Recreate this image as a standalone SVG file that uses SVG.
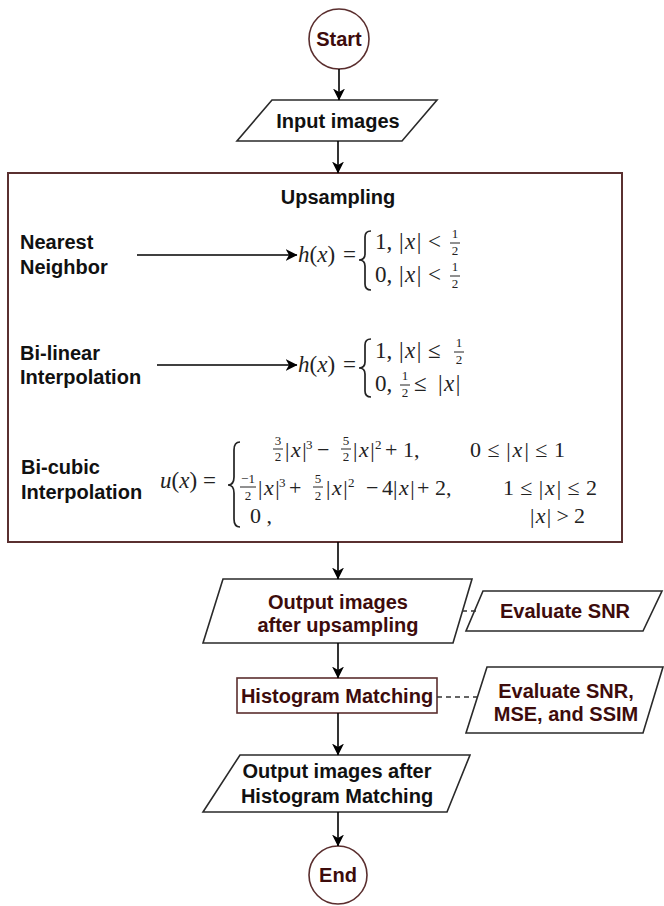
<svg xmlns="http://www.w3.org/2000/svg" width="664" height="906" viewBox="0 0 664 906">
<defs>
<marker id="ah" viewBox="0 0 12 12" refX="11.5" refY="6" markerWidth="12" markerHeight="12" markerUnits="userSpaceOnUse" orient="auto"><path d="M0,0 L12,6 L0,12 L3.5,6 z" fill="#000"/></marker>
</defs>
<style>
.lbl{font-family:"Liberation Sans",Arial,sans-serif;font-weight:bold;font-size:20px;text-anchor:middle}
.sl{font-family:"Liberation Sans",Arial,sans-serif;font-weight:bold;font-size:20px;fill:#111}
.mar{fill:#3d0c0c}
.blk{fill:#111}
.node{fill:#fff;stroke:#2a2a2a;stroke-width:1.6}
.mnode{fill:#fff;stroke:#5a2e2e;stroke-width:1.6}
.conn{stroke:#000;stroke-width:1.6;fill:none}
.dash{stroke:#333;stroke-width:1.3;stroke-dasharray:5 4;fill:none}
.m{font-family:"Liberation Serif","Times New Roman",serif;font-size:22px;fill:#222}
.h{font-size:23px}
.i{font-style:italic}
.f{font-family:"Liberation Serif","Times New Roman",serif;font-size:13px;fill:#222;text-anchor:middle}
.s{font-family:"Liberation Serif","Times New Roman",serif;font-size:13px;fill:#222}
.bar{stroke:#222;stroke-width:1}
.brace{fill:none;stroke:#222;stroke-width:1.7}
</style>

<g id="start">
<circle class="mnode" cx="339" cy="39" r="30"/>
<text class="lbl mar" x="339" y="46">Start</text>
</g>

<g id="input">
<polygon class="node" points="272,100 437,100 402,141 237,141"/>
<text class="lbl blk" x="338" y="128">Input images</text>
</g>

<g id="upsampling">
<rect x="8" y="173" width="614" height="369" fill="#fff" stroke="#5a3030" stroke-width="2"/>
<text class="lbl blk" x="338" y="204">Upsampling</text>

<text class="sl" x="20" y="249">Nearest</text>
<text class="sl" x="20" y="274">Neighbor</text>
<text class="m h" x="298" y="262"><tspan class="i">h</tspan>(<tspan class="i">x</tspan>)<tspan x="343">=</tspan></text>
<path class="brace" d="M371,231 Q365,231 365,237 L365,254 Q365,260 359,260 Q365,260 365,266 L365,284 Q365,290 371,290"/>
<text class="m h" x="375" y="249">1, <tspan x="399">|</tspan><tspan class="i" dx="1.5">x</tspan><tspan dx="1.5">|</tspan><tspan x="428">&lt;</tspan></text>
<text class="f" x="455" y="238">1</text><line class="bar" x1="450" y1="243" x2="460" y2="243"/><text class="f" x="455" y="255">2</text>
<text class="m h" x="375" y="282">0, <tspan x="399">|</tspan><tspan class="i" dx="1.5">x</tspan><tspan dx="1.5">|</tspan><tspan x="428">&lt;</tspan></text>
<text class="f" x="455" y="271">1</text><line class="bar" x1="450" y1="276" x2="460" y2="276"/><text class="f" x="455" y="288">2</text>

<text class="sl" x="20" y="360">Bi-linear</text>
<text class="sl" x="20" y="384">Interpolation</text>
<text class="m h" x="298" y="372"><tspan class="i">h</tspan>(<tspan class="i">x</tspan>)<tspan x="343">=</tspan></text>
<path class="brace" d="M371,339 Q365,339 365,345 L365,362 Q365,368 359,368 Q365,368 365,374 L365,391 Q365,397 371,397"/>
<text class="m h" x="375" y="358">1, <tspan x="399">|</tspan><tspan class="i" dx="1.5">x</tspan><tspan dx="1.5">|</tspan><tspan x="428">≤</tspan></text>
<text class="f" x="459" y="347">1</text><line class="bar" x1="454" y1="352" x2="464" y2="352"/><text class="f" x="459" y="364">2</text>
<text class="m h" x="375" y="391">0,</text>
<text class="f" x="405" y="380">1</text><line class="bar" x1="400" y1="385" x2="410" y2="385"/><text class="f" x="405" y="397">2</text>
<text class="m h" x="414" y="391">≤ <tspan x="438">|</tspan><tspan class="i" dx="1.5">x</tspan><tspan dx="1.5">|</tspan></text>

<text class="sl" x="21" y="474">Bi-cubic</text>
<text class="sl" x="21" y="499">Interpolation</text>
<text class="m h" x="160" y="488"><tspan class="i">u</tspan>(<tspan class="i">x</tspan>)<tspan x="203">=</tspan></text>
<path class="brace" d="M240,442 Q234,442 234,450 L234,477 Q234,485 228,485 Q234,485 234,493 L234,519 Q234,527 240,527"/>

<text class="f" x="278" y="445">3</text><line class="bar" x1="273" y1="449" x2="283" y2="449"/><text class="f" x="278" y="461">2</text>
<text class="m" x="285" y="457">|<tspan class="i" dx="1.5">x</tspan><tspan dx="1.5">|</tspan></text>
<text class="s" x="306" y="449">3</text>
<text class="m" x="317" y="457">−</text>
<text class="f" x="346" y="445">5</text><line class="bar" x1="341" y1="449" x2="351" y2="449"/><text class="f" x="346" y="461">2</text>
<text class="m" x="353" y="457">|<tspan class="i" dx="1.5">x</tspan><tspan dx="1.5">|</tspan></text>
<text class="s" x="375" y="449">2</text>
<text class="m" x="385" y="457">+ 1,</text>
<text class="m" x="470" y="457" textLength="95" lengthAdjust="spacing">0 ≤ |<tspan class="i" dx="1.5">x</tspan><tspan dx="1.5">| ≤ 1</tspan></text>

<text class="f" x="248" y="483">−1</text><line class="bar" x1="240" y1="487" x2="256" y2="487"/><text class="f" x="248" y="500">2</text>
<text class="m" x="258" y="495">|<tspan class="i" dx="1.5">x</tspan><tspan dx="1.5">|</tspan></text>
<text class="s" x="279" y="487">3</text>
<text class="m" x="289" y="495">+</text>
<text class="f" x="318" y="483">5</text><line class="bar" x1="313" y1="487" x2="323" y2="487"/><text class="f" x="318" y="500">2</text>
<text class="m" x="326" y="495">|<tspan class="i" dx="1.5">x</tspan><tspan dx="1.5">|</tspan></text>
<text class="s" x="348" y="487">2</text>
<text class="m" x="366" y="495">−</text>
<text class="m" x="382" y="495">4|<tspan class="i" dx="1.5">x</tspan><tspan dx="1.5">|</tspan></text>
<text class="m" x="417" y="495">+ 2,</text>
<text class="m" x="503" y="495" textLength="94" lengthAdjust="spacing">1 ≤ |<tspan class="i" dx="1.5">x</tspan><tspan dx="1.5">| ≤ 2</tspan></text>

<text class="m" x="250" y="523">0 ,</text>
<text class="m" x="530" y="523" textLength="55" lengthAdjust="spacing">|<tspan class="i" dx="1.5">x</tspan><tspan dx="1.5">| &gt; 2</tspan></text>
</g>

<g id="output-upsampling">
<polygon class="node" points="223,579 472,579 453,643 203,643"/>
<text class="lbl mar" x="338" y="609">Output images</text>
<text class="lbl mar" x="338" y="632">after upsampling</text>
</g>

<g id="evaluate-snr">
<polygon class="node" points="483,591 662,591 643,631 466,631"/>
<text class="lbl mar" x="565" y="618">Evaluate SNR</text>
</g>

<g id="histogram-matching">
<rect class="mnode" x="237" y="678" width="200" height="35"/>
<text class="lbl mar" x="337" y="703">Histogram Matching</text>
</g>

<g id="evaluate-all">
<polygon class="node" points="487,667 663,667 643,733 466,733"/>
<text class="lbl mar" x="566" y="698">Evaluate SNR,</text>
<text class="lbl mar" x="566" y="721">MSE, and SSIM</text>
</g>

<g id="output-histogram">
<polygon class="node" points="240,755 470,755 447,812 203,812"/>
<text class="lbl blk" x="337" y="778">Output images after</text>
<text class="lbl blk" x="337" y="803">Histogram Matching</text>
</g>

<g id="end">
<circle class="mnode" cx="338" cy="875" r="29"/>
<text class="lbl mar" x="338" y="882">End</text>
</g>

<g id="connectors">
<path class="conn" d="M339,69 V100" marker-end="url(#ah)"/>
<path class="conn" d="M338,141 V173" marker-end="url(#ah)"/>
<path class="conn" d="M338,542 V579" marker-end="url(#ah)"/>
<path class="conn" d="M338,643 V678" marker-end="url(#ah)"/>
<path class="conn" d="M338,713 V755" marker-end="url(#ah)"/>
<path class="conn" d="M338,812 V846" marker-end="url(#ah)"/>
<path class="conn" d="M137,255 H297" marker-end="url(#ah)"/>
<path class="conn" d="M157,365 H297" marker-end="url(#ah)"/>
<path class="dash" d="M462,611 H476"/>
<path class="dash" d="M437,697 H477"/>
</g>
</svg>
